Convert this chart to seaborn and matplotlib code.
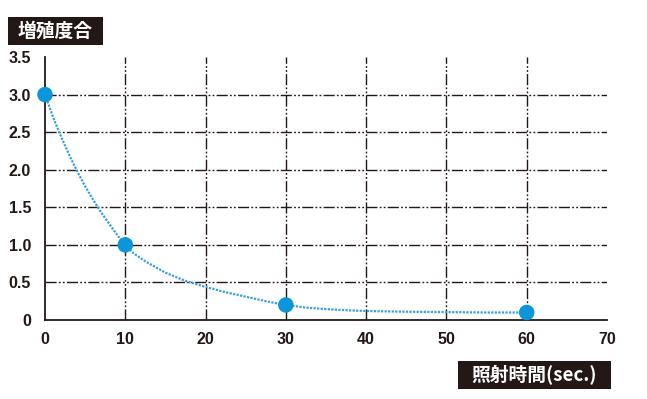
import matplotlib
matplotlib.use("Agg")
import matplotlib.pyplot as plt
from matplotlib.patches import Rectangle
import seaborn as sns
import pandas as pd

# measured points
time_sec = [0, 10, 30, 60]
growth = [3.0, 1.0, 0.2, 0.1]

# dotted trend curve
curve_x = [0, 1, 2, 3, 4, 5, 6, 7, 8, 9, 10, 11, 12.5, 15, 17.5, 20, 22.5, 25, 27.5,
           30, 32.5, 35, 37.5, 40, 45, 50, 55, 60]
curve_y = [3.0, 2.70, 2.44, 2.20, 1.98, 1.78, 1.60, 1.43, 1.28, 1.13, 1.0, 0.89, 0.78,
           0.63, 0.52, 0.44, 0.37, 0.31, 0.25, 0.2, 0.165, 0.145, 0.13, 0.12, 0.11,
           0.105, 0.1, 0.1]

x_ticks = [0, 10, 20, 30, 40, 50, 60, 70]
y_ticks = [0, 0.5, 1.0, 1.5, 2.0, 2.5, 3.0, 3.5]
y_labels = ["0", "0.5", "1.0", "1.5", "2.0", "2.5", "3.0", "3.5"]
y_title = "増殖度合"
x_title = "照射時間(sec.)"

sns.set_style("white")
plt.rcParams["font.family"] = ["Liberation Sans", "Noto Sans CJK JP", "DejaVu Sans"]

W, H = 647, 399
fig = plt.figure(figsize=(W / 100, H / 100), dpi=100)
ax = fig.add_axes([45 / W, 1 - 320 / H, (607 - 45) / W, (320 - 57) / H])

pts = pd.DataFrame({"t": time_sec, "g": growth})
crv = pd.DataFrame({"t": curve_x, "g": curve_y})

ink = "#231815"
dash = (0, (8, 1.6, 1.3, 1.6, 1.3, 1.6))

sns.lineplot(data=crv, x="t", y="g", ax=ax, color="#3a9fdb", linewidth=1.6,
             linestyle=(0, (1, 0.6)), zorder=3, sort=False)
sns.scatterplot(data=pts, x="t", y="g", ax=ax, color="#0a96d8", s=125,
                edgecolor="none", zorder=5, clip_on=False)

ax.set_xlim(0, 70)
ax.set_ylim(0, 3.5)
ax.set_xticks(x_ticks)
ax.set_yticks(y_ticks)
ax.set_yticklabels(y_labels)
ax.set_xlabel("")
ax.set_ylabel("")

ax.grid(True, color=ink, linewidth=1.0, linestyle=dash, zorder=1)
ax.set_axisbelow(True)
for i, gl in enumerate(ax.xaxis.get_gridlines()):
    if x_ticks[i] in (0, 70):
        gl.set_visible(False)
for i, gl in enumerate(ax.yaxis.get_gridlines()):
    if y_ticks[i] in (0, 3.5):
        gl.set_visible(False)

for side in ("top", "right"):
    ax.spines[side].set_visible(False)
for side in ("left", "bottom"):
    ax.spines[side].set_color(ink)
    ax.spines[side].set_linewidth(1.3)

ax.tick_params(axis="both", length=0, labelsize=11.5, colors=ink)
ax.tick_params(axis="y", pad=10)
ax.tick_params(axis="x", pad=9)
for lab in ax.get_xticklabels() + ax.get_yticklabels():
    lab.set_fontweight("bold")


def label_box(x0, y0, x1, y1, text):
    fig.patches.append(Rectangle((x0 / W, 1 - y1 / H), (x1 - x0) / W, (y1 - y0) / H,
                                 transform=fig.transFigure, facecolor=ink,
                                 edgecolor="none", zorder=0))
    fig.text((x0 + x1) / 2 / W, 1 - (y0 + y1) / 2 / H, text, ha="center",
             va="center", color="white", fontsize=13.5, fontweight="bold",
             family=["Noto Sans CJK JP", "DejaVu Sans"])


label_box(8, 17, 103, 45, y_title)
label_box(458, 361, 611, 389, x_title)

fig.savefig("out.png", dpi=100)
